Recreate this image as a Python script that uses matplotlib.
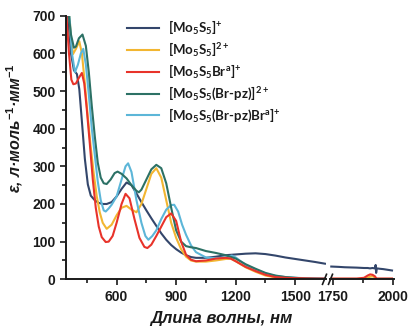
import matplotlib
matplotlib.use("Agg")
import matplotlib.pyplot as plt
from matplotlib.lines import Line2D

plt.rcParams['mathtext.fontset'] = 'custom'
plt.rcParams['mathtext.rm'] = 'Liberation Sans:bold'
plt.rcParams['mathtext.it'] = 'Liberation Sans:italic:bold'
plt.rcParams['mathtext.bf'] = 'Liberation Sans:bold'
plt.rcParams['mathtext.sf'] = 'Lato:bold'

# ---------------- data ----------------
labels = [r'[Mo$_\mathsf{5}$S$_\mathsf{5}$]$^\mathsf{+}$',
          r'[Mo$_\mathsf{5}$S$_\mathsf{5}$]$^\mathsf{2+}$',
          r'[Mo$_\mathsf{5}$S$_\mathsf{5}$Br$^\mathsf{a}$]$^\mathsf{+}$',
          r'[Mo$_\mathsf{5}$S$_\mathsf{5}$(Br-pz)]$^\mathsf{2+}$',
          r'[Mo$_\mathsf{5}$S$_\mathsf{5}$(Br-pz)Br$^\mathsf{a}$]$^\mathsf{+}$']
colors = ['#33466b', '#f2b631', '#e8332a', '#2c7165', '#5cb6d8']

navy_x = [345, 355, 370, 385, 400, 412, 425, 440, 455, 470, 490, 510, 530, 550, 575,
          600, 625, 650, 675, 700, 725, 750, 775, 800, 825, 850, 875, 900, 925, 950,
          975, 1000, 1050, 1100, 1150, 1200, 1250, 1300, 1350, 1400, 1450, 1500, 1550,
          1600, 1655]
navy_y = [760, 700, 600, 555, 545, 505, 420, 320, 252, 222, 210, 203, 200, 200, 205,
          220, 240, 257, 250, 228, 205, 183, 162, 142, 122, 105, 91, 80, 71, 64,
          59, 57, 57, 60, 64, 66, 68, 69, 67, 63, 58, 54, 50, 46, 41]

yel_x = [345, 360, 370, 380, 395, 412, 425, 440, 455, 470, 485, 500, 515, 530, 550,
         575, 600, 625, 650, 675, 700, 725, 750, 775, 800, 825, 850, 875, 900, 925,
         950, 975, 1000, 1050, 1100, 1150, 1175, 1200, 1250, 1300, 1350, 1400, 1450,
         1500, 1550, 1655]
yel_y = [800, 720, 640, 598, 612, 632, 600, 520, 430, 350, 280, 220, 178, 150, 134,
         145, 170, 190, 195, 185, 178, 200, 240, 280, 295, 270, 210, 150, 110, 80,
         60, 50, 47, 47, 50, 54, 55, 48, 32, 20, 10, 5, 3, 2, 1, 0]

red_x = [345, 360, 372, 382, 395, 410, 425, 437, 450, 465, 480, 495, 510, 525, 545,
         560, 580, 600, 625, 645, 665, 690, 715, 740, 755, 775, 800, 825, 850, 875,
         900, 925, 950, 975, 1000, 1050, 1100, 1150, 1175, 1200, 1250, 1300, 1350,
         1400, 1450, 1500, 1600, 1655]
red_y = [720, 600, 530, 518, 520, 535, 548, 520, 450, 360, 265, 190, 140, 112, 99,
         100, 115, 150, 200, 227, 215, 160, 110, 86, 83, 92, 115, 140, 165, 175,
         155, 100, 65, 52, 48, 50, 55, 57, 55, 48, 33, 22, 12, 6, 4, 3, 2, 2]

teal_x = [345, 355, 370, 385, 395, 410, 428, 445, 460, 475, 490, 505, 520, 535, 550,
          570, 590, 605, 625, 650, 675, 700, 712, 725, 750, 775, 800, 825, 850, 875,
          900, 925, 950, 975, 1000, 1050, 1100, 1150, 1200, 1250, 1300, 1350, 1400,
          1450, 1500, 1550, 1655]
teal_y = [800, 720, 650, 615, 618, 640, 650, 620, 550, 460, 380, 310, 270, 255, 253,
          265, 282, 286, 280, 268, 250, 235, 231, 238, 265, 292, 304, 295, 255, 190,
          130, 100, 88, 85, 83, 75, 70, 64, 55, 40, 28, 17, 10, 6, 4, 2, 1]

lb_x = [345, 360, 375, 390, 405, 420, 432, 445, 460, 475, 490, 505, 520, 535, 545,
        560, 575, 600, 625, 645, 658, 675, 700, 725, 745, 760, 780, 800, 825, 850,
        875, 890, 910, 930, 950, 975, 1000, 1050, 1100, 1150, 1180, 1200, 1250, 1300,
        1350, 1400, 1450, 1500, 1550, 1655]
lb_y = [820, 720, 600, 550, 570, 600, 612, 570, 490, 400, 330, 260, 210, 183, 180,
        188, 198, 220, 265, 300, 308, 285, 210, 150, 115, 105, 115, 130, 160, 185,
        197, 198, 180, 145, 118, 90, 72, 58, 56, 58, 63, 58, 38, 26, 15, 9, 6, 4, 3, 2]

right_x = [1740, 1775, 1800, 1850, 1880, 1895, 1905, 1915, 1925, 1928, 1930, 1933,
           1945, 1960, 1980, 2000]
right_navy = [34, 33, 32, 31, 30, 30, 29, 30, 29, 38, 17, 29, 28, 27, 25, 23]
right_yel = [1, 1, 1, 1, 2, 4, 7, 8, 5, 3, 2, 1, 1, 1, 1, 1]
right_red = [2, 2, 2, 2, 4, 10, 13, 12, 8, 5, 3, 2, 2, 2, 2, 2]
right_teal = [1, 1, 1, 1, 1, 1, 1, 1, 1, 1, 1, 1, 1, 1, 1, 1]
right_lb = [2, 2, 2, 2, 2, 2, 2, 2, 2, 2, 2, 2, 2, 2, 2, 2]

left_series = [(navy_x, navy_y), (yel_x, yel_y), (red_x, red_y), (teal_x, teal_y), (lb_x, lb_y)]
right_series = [right_navy, right_yel, right_red, right_teal, right_lb]
draw_order = [0, 1, 4, 3, 2]

# ---------------- figure ----------------
W, H = 410, 326
fig = plt.figure(figsize=(W / 100, H / 100), dpi=100)
top = 1 - 15.7 / H
bot = 1 - 279.3 / H
axL = fig.add_axes([66 / W, bot, (326 - 66) / W, top - bot])
axR = fig.add_axes([330 / W, bot, (394 - 330) / W, top - bot])

lw = 1.5
for i in draw_order:
    x, y = left_series[i]
    axL.plot(x, y, color=colors[i], lw=lw, solid_capstyle='butt')
    axR.plot(right_x, right_series[i], color=colors[i], lw=lw, solid_capstyle='butt')

axL.set_xlim(345, 1655)
axR.set_xlim(1739, 2004)
for ax in (axL, axR):
    ax.set_ylim(0, 700)
    ax.spines['top'].set_visible(False)
    ax.spines['right'].set_visible(False)
    for s in ax.spines.values():
        s.set_linewidth(1.4)
        s.set_color('#1a1a1a')
    ax.tick_params(which='major', direction='out', length=4, width=1.2, colors='#1a1a1a',
                   labelsize=10)
    ax.tick_params(which='minor', direction='out', length=3, width=1.2, colors='#1a1a1a')

axR.spines['left'].set_visible(False)
axR.tick_params(axis='y', which='both', left=False, labelleft=False)

axL.set_xticks([600, 900, 1200, 1500])
axL.set_xticks([450, 750, 1050, 1350], minor=True)
axL.set_yticks(range(0, 701, 100))
axL.set_yticks(range(50, 700, 100), minor=True)
axR.set_xticks([1750, 2000])
axR.set_xticks([1875], minor=True)
for ax in (axL, axR):
    for lab in ax.get_xticklabels() + ax.get_yticklabels():
        lab.set_fontweight('bold')
        lab.set_family('Liberation Sans')
        lab.set_fontsize(10)
        lab.set_color('#1a1a1a')

# break marks
for px in (324.5, 330.5):
    fig.add_artist(Line2D([(px - 2) / W, (px + 2) / W], [bot - 5 / H, bot + 5 / H],
                          color='#1a1a1a', lw=1.2))

fig.text(15 / W, 1 - 128 / H, 'ε, л·моль$^{\\mathit{-1}}$·мм$^{\\mathit{-1}}$',
         family='Liberation Sans', fontweight='bold', style='italic', fontsize=11.5,
         rotation=90, ha='center', va='center', color='#1a1a1a')
fig.text(221 / W, 1 - 318 / H, 'Длина волны, нм', family='Liberation Sans',
         fontweight='bold', style='italic', fontsize=12, ha='center', va='center',
         color='#1a1a1a')

handles = [Line2D([], [], color=c, lw=lw) for c in colors]
leg = fig.legend(handles, labels, loc='upper left', bbox_to_anchor=(127 / W, 1 - 19 / H),
                 bbox_transform=fig.transFigure, frameon=False,
                 prop={'family': 'Lato', 'weight': 'bold', 'size': 9.5},
                 handlelength=2.4, handletextpad=0.7, labelspacing=0.3,
                 borderpad=0, borderaxespad=0)
for t in leg.get_texts():
    t.set_color('#1a1a1a')

fig.savefig('out.png', dpi=100)
